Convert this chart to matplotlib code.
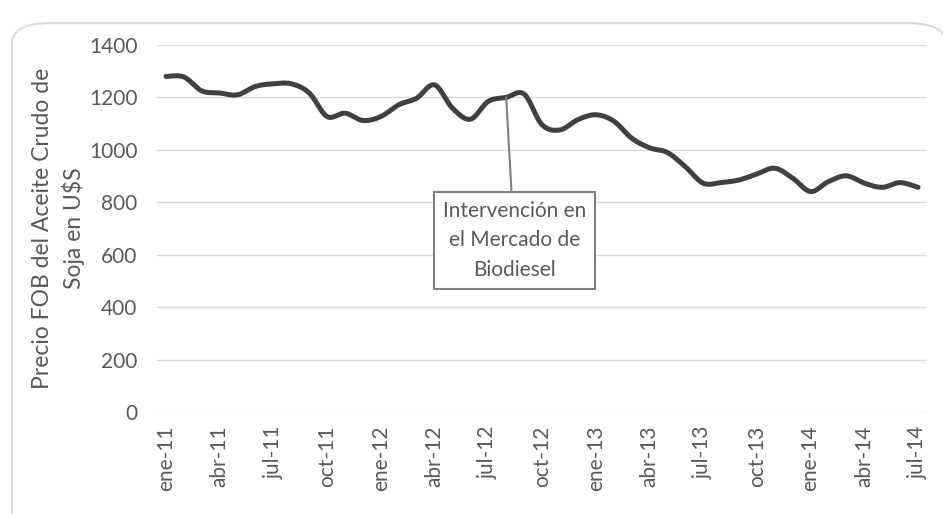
import matplotlib.pyplot as plt
import numpy as np
from matplotlib.patches import FancyBboxPatch

plt.rcParams['font.family'] = ['Lato', 'DejaVu Sans']

# precio mensual, ene-11 .. jul-14
meses = ['ene', 'feb', 'mar', 'abr', 'may', 'jun', 'jul', 'ago', 'sep', 'oct', 'nov', 'dic']
etiquetas = [f'{meses[i % 12]}-{11 + i // 12}' for i in range(43)]
precio = [1280, 1278, 1225, 1217, 1210, 1242, 1252, 1252, 1217, 1127,
          1140, 1112, 1127, 1172, 1197, 1248, 1159, 1117, 1185, 1200,
          1213, 1096, 1076, 1115, 1134, 1110, 1045, 1008, 990, 936,
          873, 875, 885, 908, 930, 892, 841, 879, 901, 873,
          857, 875, 857]
nota = 'Intervención en\nel Mercado de\nBiodiesel'
idx_nota = 19

gris = '#595959'


def suavizar(x, y, n=12):
    # Catmull-Rom solo para el trazo (como linea suavizada de Excel)
    x = np.asarray(x, float); y = np.asarray(y, float)
    px = np.concatenate([[x[0]], x, [x[-1]]])
    py = np.concatenate([[y[0]], y, [y[-1]]])
    xs, ys = [], []
    t = np.linspace(0, 1, n, endpoint=False)
    for i in range(1, len(px) - 2):
        for P, out in ((px, xs), (py, ys)):
            p0, p1, p2, p3 = P[i - 1], P[i], P[i + 1], P[i + 2]
            out.extend(0.5 * ((2 * p1) + (-p0 + p2) * t
                              + (2 * p0 - 5 * p1 + 4 * p2 - p3) * t ** 2
                              + (-p0 + 3 * p1 - 3 * p2 + p3) * t ** 3))
    xs.append(x[-1]); ys.append(y[-1])
    return xs, ys


fig = plt.figure(figsize=(9.43, 5.14), dpi=100)
fig.patches.append(FancyBboxPatch((12 / 943, -0.05), 0.99, 0.99 - 18 / 514 + 0.05,
                                  boxstyle='round,pad=0,rounding_size=0.04',
                                  transform=fig.transFigure, fc='white',
                                  ec='#d9d9d9', lw=1.5, zorder=-1))
ax = fig.add_axes([157 / 943, 1 - 412 / 514, (927 - 157) / 943, (412 - 45) / 514])
ax.set_facecolor('none')

x = np.arange(len(precio))
sx, sy = suavizar(x, precio)
ax.plot(sx, sy, color='#404040', lw=3.6, solid_capstyle='round', zorder=3)

ax.set_xlim(-0.5, 42.5)
ax.set_ylim(0, 1400)
ax.set_yticks(np.arange(0, 1401, 200))
ax.set_xticks(x[::3])
ax.set_xticklabels(etiquetas[::3], rotation=90)
ax.grid(axis='y', color='#d9d9d9', lw=1)
ax.set_axisbelow(True)
for s in ax.spines.values():
    s.set_visible(False)
ax.tick_params(length=0, colors=gris, labelsize=15)
ax.tick_params(axis='x', pad=10)
ax.tick_params(axis='y', pad=14)
ax.set_ylabel('Precio FOB del Aceite Crudo de\nSoja en U$S', color=gris, fontsize=16.5,
              labelpad=3, linespacing=1.45)

ax.annotate(nota, xy=(idx_nota, precio[idx_nota]), xytext=(19.45, 655),
            ha='center', va='center', color=gris, fontsize=15, linespacing=1.6,
            bbox=dict(boxstyle='square,pad=0.42', fc='white', ec='#7f7f7f', lw=1.5),
            arrowprops=dict(arrowstyle='-', color='#7f7f7f', lw=1.5,
                            shrinkA=0, shrinkB=0), zorder=4)

fig.savefig('out.png', dpi=100)
